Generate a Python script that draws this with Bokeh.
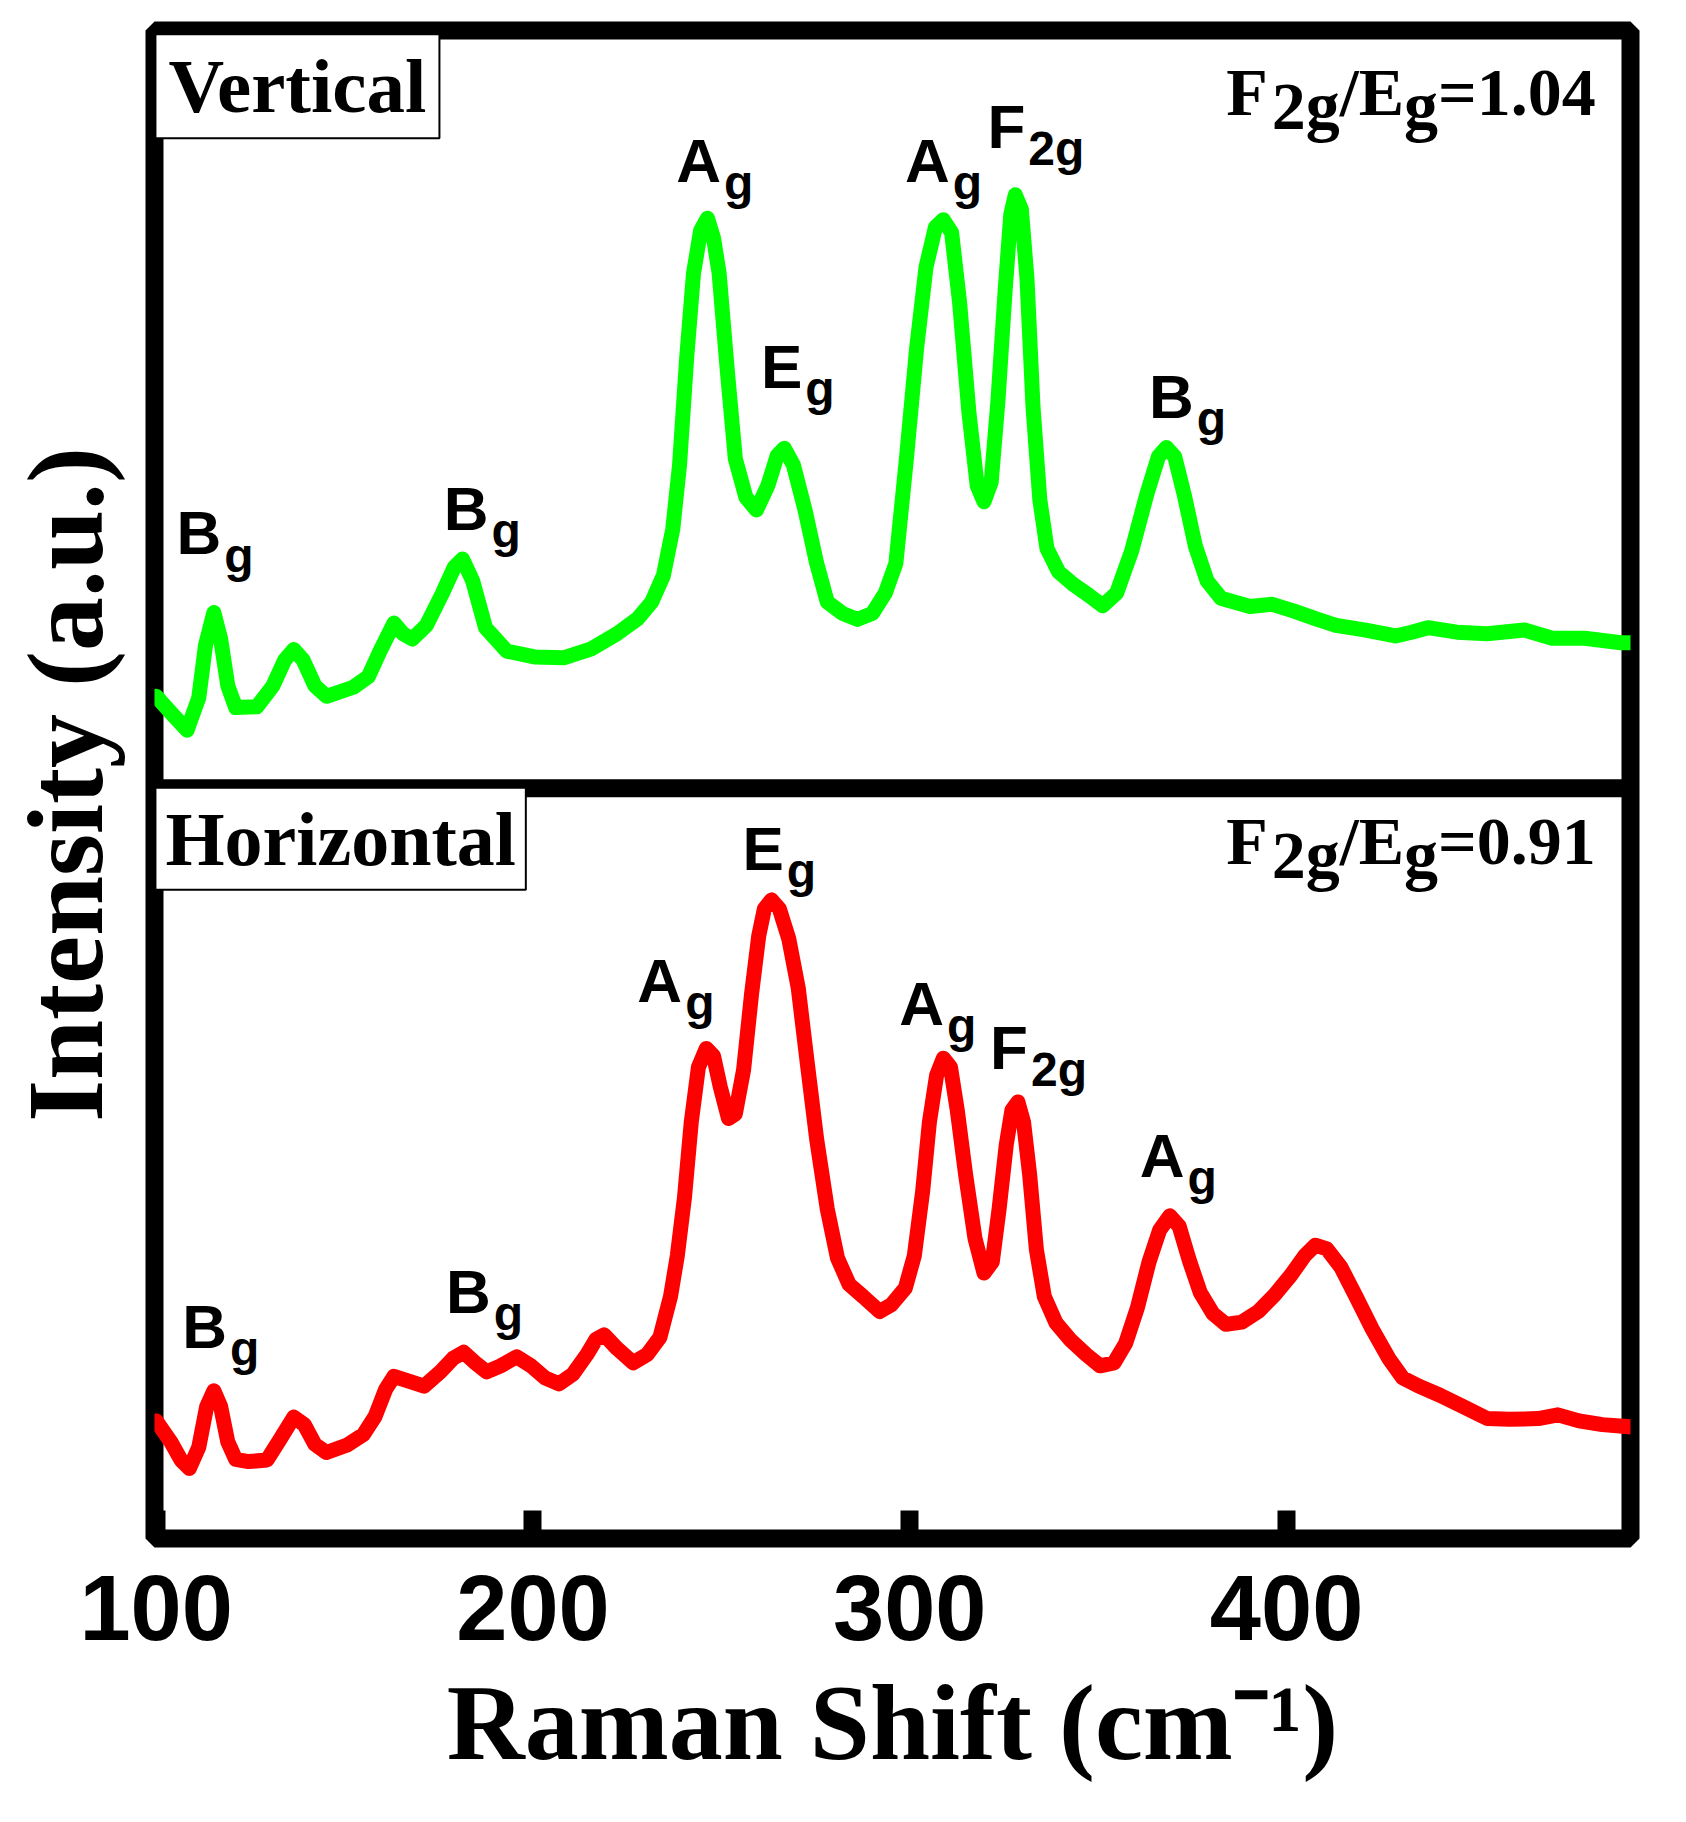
from bokeh.plotting import figure
from bokeh.models import Range1d, FixedTicker, Span, Label
from bokeh.embed import file_html
from bokeh.resources import INLINE

# ---------------- data ----------------
x_ticks = [100, 200, 300, 400]

# Vertical polarisation spectrum (green, upper panel) – intensity in panel units
raman_shift_vertical = [100.0, 104.5, 108.2, 111.3, 113.1, 115.3, 117.1, 119.0, 121.1, 126.7,
                        131.0, 134.1, 136.5, 139.0, 142.1, 145.2, 152.3, 156.3, 159.4, 163.1,
                        165.5, 168.0, 171.7, 176.0, 179.1, 181.3, 184.0, 187.4, 193.0, 200.7,
                        208.1, 215.5, 222.3, 227.8, 231.5, 234.6, 237.1, 238.9, 240.8, 242.6,
                        244.5, 246.3, 247.9, 249.4, 251.6, 253.7, 256.5, 259.3, 262.3, 264.8,
                        266.7, 269.1, 272.2, 275.3, 278.1, 282.1, 286.1, 290.1, 293.5, 296.3,
                        299.1, 301.8, 304.3, 306.8, 308.9, 311.1, 313.2, 315.7, 317.9, 319.7,
                        321.6, 323.4, 325.3, 326.8, 328.0, 329.6, 331.1, 332.7, 334.5, 336.4,
                        339.5, 343.5, 347.5, 351.2, 354.9, 358.9, 362.9, 366.0, 368.1, 370.3,
                        372.8, 375.8, 378.9, 382.6, 390.3, 396.2, 402.0, 408.2, 413.1, 420.6,
                        428.9, 433.2, 437.5, 445.2, 453.2, 463.1, 470.5, 479.1, 488.7, 491.5]
intensity_vertical = [12.2, 9.7, 7.7, 12.0, 19.0, 23.3, 19.8, 13.6, 10.7, 10.8,
                      13.6, 17.0, 18.4, 17.0, 13.6, 12.2, 13.4, 14.8, 18.2, 21.9,
                      20.5, 19.8, 21.6, 25.9, 29.3, 30.4, 27.5, 21.3, 18.2, 17.4,
                      17.3, 18.5, 20.5, 22.5, 24.7, 28.2, 34.4, 42.9, 57.2, 68.3,
                      74.0, 75.6, 73.0, 68.3, 55.2, 43.7, 38.6, 36.9, 40.1, 44.1,
                      45.1, 42.9, 36.9, 29.8, 24.7, 23.2, 22.4, 23.2, 25.9, 29.8,
                      43.7, 58.3, 69.1, 74.4, 75.4, 73.7, 64.5, 49.8, 40.1, 38.0,
                      40.6, 51.4, 66.0, 76.1, 78.7, 76.8, 67.6, 50.6, 38.3, 31.8,
                      28.7, 27.0, 25.6, 24.2, 25.9, 31.5, 39.0, 44.0, 45.2, 44.0,
                      39.0, 32.1, 27.5, 25.2, 24.1, 24.4, 23.5, 22.4, 21.6, 21.0,
                      20.2, 20.7, 21.3, 20.7, 20.5, 21.0, 19.9, 19.9, 19.3, 19.3]

# Horizontal polarisation spectrum (red, lower panel)
raman_shift_horizontal = [100.0, 103.9, 106.6, 108.8, 111.3, 113.4, 115.3, 117.1, 119.0, 121.1,
                          124.5, 129.4, 132.8, 136.5, 139.3, 142.1, 145.2, 150.7, 155.0, 158.1,
                          160.9, 163.1, 166.8, 171.1, 175.4, 178.8, 181.6, 184.7, 187.7, 191.4,
                          195.7, 199.5, 203.2, 206.9, 210.6, 214.3, 216.7, 218.9, 222.3, 226.6,
                          230.3, 233.7, 236.5, 238.3, 240.2, 242.0, 243.9, 246.0, 247.9, 249.7,
                          251.9, 253.7, 255.9, 258.0, 259.9, 261.4, 263.3, 265.4, 267.9, 270.4,
                          272.8, 275.3, 278.1, 280.8, 283.9, 287.6, 292.0, 295.1, 298.8, 301.2,
                          303.4, 305.2, 307.1, 308.9, 310.8, 312.6, 314.8, 317.3, 319.7, 321.9,
                          323.7, 325.6, 327.1, 328.7, 330.2, 331.8, 333.6, 335.7, 338.8, 342.5,
                          346.8, 350.5, 354.2, 357.3, 360.4, 363.5, 366.3, 369.0, 371.5, 374.3,
                          377.1, 380.5, 383.9, 388.1, 392.5, 396.8, 401.1, 404.8, 407.6, 410.7,
                          414.4, 418.4, 422.7, 427.1, 430.8, 435.1, 440.7, 446.8, 453.3, 459.1,
                          466.8, 472.0, 477.6, 483.8, 491.5]
intensity_horizontal = [15.6, 12.8, 10.4, 9.3, 12.1, 17.5, 19.6, 17.5, 12.8, 10.5,
                        10.2, 10.4, 13.1, 16.1, 15.1, 12.5, 11.4, 12.4, 13.8, 16.2,
                        19.8, 21.5, 20.9, 20.2, 22.1, 23.9, 24.7, 23.3, 22.1, 22.9,
                        24.1, 22.9, 21.3, 20.5, 21.8, 24.4, 26.4, 27.0, 25.2, 23.3,
                        24.4, 26.7, 32.1, 37.5, 45.2, 55.2, 62.5, 65.0, 64.0, 59.9,
                        55.7, 56.3, 62.2, 72.2, 79.9, 83.5, 84.7, 83.5, 79.5, 73.0,
                        63.0, 52.9, 43.7, 37.2, 33.7, 32.1, 30.1, 31.0, 33.2, 37.5,
                        46.0, 55.2, 61.4, 63.7, 62.5, 56.8, 48.3, 39.8, 35.2, 36.7,
                        43.7, 52.2, 56.8, 57.9, 55.2, 48.3, 38.3, 32.1, 28.6, 26.4,
                        24.4, 22.9, 23.3, 25.9, 30.6, 36.7, 40.9, 42.8, 41.4, 36.7,
                        32.6, 29.8, 28.4, 28.7, 30.1, 32.3, 34.9, 37.5, 38.9, 38.4,
                        36.0, 32.1, 27.8, 23.9, 21.3, 20.2, 19.0, 17.5, 15.9, 15.8,
                        15.9, 16.4, 15.6, 15.1, 14.8]

# peak assignments: (symbol, subscript, raman shift, label baseline in panel units)
peaks_vertical = [("B", "g", 105.4, 30.9), ("B", "g", 176.3, 34.1), ("A", "g", 238.0, 80.3),
                  ("E", "g", 260.5, 53.0), ("A", "g", 298.7, 80.3), ("F", "2g", 320.6, 84.8),
                  ("B", "g", 363.5, 49.0)]
peaks_horizontal = [("B", "g", 106.9, 25.2), ("B", "g", 176.9, 29.8), ("A", "g", 227.7, 71.0),
                    ("E", "g", 255.6, 88.6), ("A", "g", 297.2, 68.0), ("F", "2g", 321.3, 62.1),
                    ("A", "g", 361.0, 47.8)]

ratio_vertical = "1.04"
ratio_horizontal = "0.91"

# ---------------- layout / style ----------------
PANEL_OFFSET = 99.5          # vertical offset of the upper panel (stacked spectra)
SANS = "Liberation Sans"
SERIF = "Liberation Serif"

p = figure(width=1668, height=1820, title=None,
           x_range=Range1d(99.55, 491.27), y_range=Range1d(0, 200),
           output_backend="svg", toolbar_location=None,
           min_border_left=154, min_border_right=38,
           min_border_top=30, min_border_bottom=282)
p.xgrid.visible = False
p.ygrid.visible = False
p.background_fill_color = "white"
p.border_fill_color = "white"
p.outline_line_color = "black"
p.outline_line_width = 18
p.outline_line_alpha = 1.0

# x axis
p.xaxis.ticker = FixedTicker(ticks=x_ticks)
p.xaxis.axis_line_color = None
p.xaxis.major_tick_in = 28
p.xaxis.major_tick_out = 0
p.xaxis.major_tick_line_width = 18
p.xaxis.major_tick_line_color = "black"
p.xaxis.minor_tick_line_color = None
p.xaxis.major_label_text_font = SANS
p.xaxis.major_label_text_font_size = "92px"
p.xaxis.major_label_text_font_style = "bold"
p.xaxis.major_label_text_color = "black"
p.xaxis.major_label_standoff = 37
p.xaxis.axis_label = "Raman Shift (cm\u207b\u00b9)"
p.xaxis.axis_label_text_font = SERIF
p.xaxis.axis_label_text_font_size = "108px"
p.xaxis.axis_label_text_font_style = "bold"
p.xaxis.axis_label_text_color = "black"
p.xaxis.axis_label_standoff = 20

# y axis (no ticks)
p.yaxis.ticker = FixedTicker(ticks=[])
p.yaxis.axis_line_color = None
p.yaxis.major_tick_in = 0
p.yaxis.major_tick_out = 0
p.yaxis.minor_tick_line_color = None
p.yaxis.major_label_text_font_size = "0px"
p.yaxis.major_label_standoff = 0
p.yaxis.axis_label = "Intensity (a.u.)"
p.yaxis.axis_label_text_font = SERIF
p.yaxis.axis_label_text_font_size = "108px"
p.yaxis.axis_label_text_font_style = "bold"
p.yaxis.axis_label_text_color = "black"
p.yaxis.axis_label_standoff = 30

# spectra
p.line(raman_shift_vertical, [v + PANEL_OFFSET for v in intensity_vertical],
       line_color="#00ff00", line_width=15, line_join="round", line_cap="round")
p.line(raman_shift_horizontal, intensity_horizontal,
       line_color="#ff0000", line_width=15, line_join="round", line_cap="round")

# divider between the panels
p.add_layout(Span(location=PANEL_OFFSET, dimension="width", line_color="black", line_width=18))

# Labels are vertically centred on their anchor; shift so that (x, y) is the baseline.
def base_shift(fs, serif=False):
    return (0.34 if serif else 0.36) * fs


MAIN_FS = 62
SUB_FS = 48
SANS_W = {"A": 0.722, "B": 0.722, "E": 0.667, "F": 0.611}


def peak_label(sym, sub, x, y):
    p.add_layout(Label(x=x, y=y, y_offset=base_shift(MAIN_FS), text=sym,
                       text_font=SANS, text_font_size=f"{MAIN_FS}px",
                       text_font_style="bold", text_color="black",
                       text_align="left", text_baseline="alphabetic"))
    p.add_layout(Label(x=x, y=y, x_offset=SANS_W[sym] * MAIN_FS + 3,
                       y_offset=base_shift(SUB_FS) - 17,
                       text=sub, text_font=SANS, text_font_size=f"{SUB_FS}px",
                       text_font_style="bold", text_color="black",
                       text_align="left", text_baseline="alphabetic"))


for sym, sub, x, y in peaks_vertical:
    peak_label(sym, sub, x, y + PANEL_OFFSET)
for sym, sub, x, y in peaks_horizontal:
    peak_label(sym, sub, x, y)

# ratio annotations  F2g/Eg=...
RATIO_FS = 68
SERIF_W = {"F": 0.611, "2": 0.5, "g": 0.5, "/": 0.278, "E": 0.667, "=": 0.570,
           "0": 0.5, "1": 0.5, "4": 0.5, "9": 0.5, ".": 0.25}


def ratio_label(x, y, value):
    pieces = [("F", False), ("2g", True), ("/E", False), ("g", True), ("=" + value, False)]
    off = 0.0
    for i, (txt, lowered) in enumerate(pieces):
        p.add_layout(Label(x=x, y=y, x_offset=off,
                           y_offset=base_shift(RATIO_FS, True) - (14 if lowered else 0),
                           text=txt, text_font=SERIF, text_font_size=f"{RATIO_FS}px",
                           text_font_style="bold", text_color="black",
                           text_align="left", text_baseline="alphabetic"))
        off += sum(SERIF_W[c] for c in txt) * RATIO_FS
        if i == 0:
            off += 4


ratio_label(384.0, 89.3 + PANEL_OFFSET, ratio_vertical)
ratio_label(384.0, 89.4, ratio_horizontal)

# panel titles in boxes (box centred vertically on y, left edge at x)
for txt, x, y, fs, pad_x in [("Vertical", 99.8, 192.6, 77, 13), ("Horizontal", 99.8, 92.8, 76, 10)]:
    p.add_layout(Label(x=x, y=y, text=txt, text_font=SERIF, text_font_size=f"{fs}px",
                       text_font_style="bold", text_color="black",
                       text_align="left", text_baseline="alphabetic",
                       background_fill_color="white", background_fill_alpha=1.0,
                       border_line_color="black", border_line_width=2,
                       padding=dict(left=pad_x, right=pad_x, top=9, bottom=9)))

open("out.html", "w").write(file_html(p, INLINE))
